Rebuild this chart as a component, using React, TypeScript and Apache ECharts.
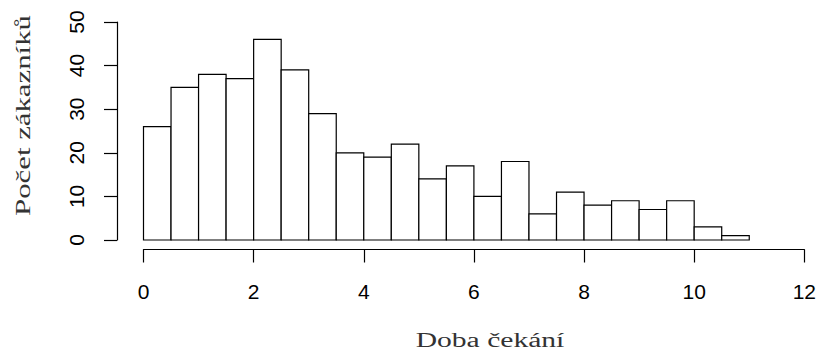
import React, { useEffect, useRef } from "react";
import * as echarts from "echarts";

const binStarts = [0, 0.5, 1, 1.5, 2, 2.5, 3, 3.5, 4, 4.5, 5, 5.5, 6, 6.5, 7, 7.5, 8, 8.5, 9, 9.5, 10, 10.5];
const binEnds = [0.5, 1, 1.5, 2, 2.5, 3, 3.5, 4, 4.5, 5, 5.5, 6, 6.5, 7, 7.5, 8, 8.5, 9, 9.5, 10, 10.5, 11];
const counts = [26, 35, 38, 37, 46, 39, 29, 20, 19, 22, 14, 17, 10, 18, 6, 11, 8, 9, 7, 9, 3, 1];
const xTitle = "Doba čekání";
const yTitle = "Počet zákazníků";

export default function App() {
  const ref = useRef<HTMLDivElement>(null);
  useEffect(() => {
    document.body.style.margin = "0";
    const chart = echarts.init(ref.current!, null, { renderer: "svg" });
    const data = binStarts.map((s, i) => [s, binEnds[i], counts[i]]);
    chart.setOption({
      animation: false,
      backgroundColor: "#ffffff",
      grid: { left: 143.5, right: 13.7, top: 22, bottom: 113, containLabel: false },
      xAxis: {
        type: "value",
        min: 0,
        max: 12,
        interval: 2,
        offset: 9.5,
        axisLine: { show: true, onZero: false, lineStyle: { color: "#000", width: 1.2 } },
        axisTick: { show: true, length: 13, lineStyle: { color: "#000", width: 1.2 } },
        axisLabel: { color: "#000", fontFamily: "Liberation Sans", fontSize: 21, margin: 31 },
        splitLine: { show: false },
      },
      yAxis: {
        type: "value",
        min: 0,
        max: 50,
        interval: 10,
        offset: 26.5,
        axisLine: { show: true, onZero: false, lineStyle: { color: "#000", width: 1.2 } },
        axisTick: { show: true, length: 13, lineStyle: { color: "#000", width: 1.2 } },
        axisLabel: {
          color: "#000",
          fontFamily: "Liberation Sans",
          fontSize: 21,
          rotate: 90,
          margin: 30,
          align: "center",
          verticalAlign: "bottom",
        },
        splitLine: { show: false },
      },
      series: [
        {
          type: "custom",
          data: data,
          encode: { x: [0, 1], y: 2 },
          renderItem: (params: any, api: any) => {
            const p0 = api.coord([api.value(0), 0]);
            const p1 = api.coord([api.value(1), api.value(2)]);
            return {
              type: "rect",
              shape: { x: p0[0], y: p1[1], width: p1[0] - p0[0], height: p0[1] - p1[1] },
              style: { fill: "#ffffff", stroke: "#000000", lineWidth: 1.2 },
            };
          },
        },
      ],
      graphic: [
        {
          type: "text",
          x: 490,
          y: 340,
          scaleX: 1.48,
          style: {
            text: xTitle,
            fontFamily: "Liberation Serif",
            fontSize: 20,
            fill: "#333",
            align: "center",
            verticalAlign: "middle",
          },
        },
        {
          type: "text",
          x: 23,
          y: 115.5,
          rotation: Math.PI / 2,
          scaleX: 1.54,
          style: {
            text: yTitle,
            fontFamily: "Liberation Serif",
            fontSize: 20,
            fill: "#333",
            align: "center",
            verticalAlign: "middle",
          },
        },
      ],
    });
    return () => chart.dispose();
  }, []);
  return <div ref={ref} style={{ width: 819, height: 353 }} />;
}
